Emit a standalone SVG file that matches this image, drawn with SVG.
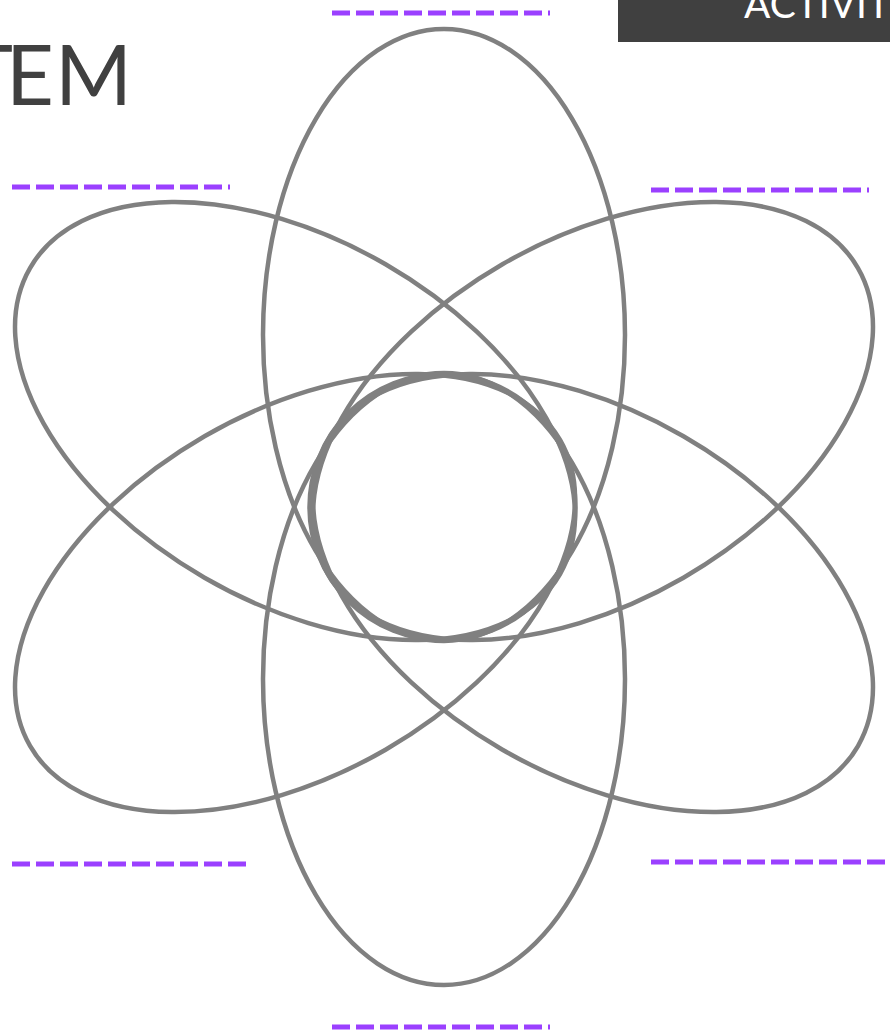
<svg xmlns="http://www.w3.org/2000/svg" width="890" height="1034" viewBox="0 0 890 1034">
<style>
.orb{fill:none;stroke:#808080;stroke-width:4.5}
.dash{fill:none;stroke:#9b40ff;stroke-width:5;stroke-dasharray:18 6}
.title{font-family:Lato,"Liberation Sans",sans-serif;font-weight:400;fill:#404040}
.hdr{font-family:Lato,"Liberation Sans",sans-serif;fill:#ffffff}
</style>
<rect width="890" height="1034" fill="#ffffff"/>
<g id="header">
<rect x="618" y="0" width="272" height="42" fill="#404040"/>
<text class="hdr" x="744" y="18" font-size="39">ACTIVIT</text>
</g>
<g id="title"><text class="title" x="-36 6 55" y="105" font-size="83">TEM</text></g>
<g id="petals">
<g id="petal-top"><ellipse class="orb" cx="444" cy="335" rx="181" ry="306"/></g>
<g id="petal-top-right"><ellipse class="orb" cx="592.96" cy="421" rx="181" ry="306" transform="rotate(60 592.96 421)"/></g>
<g id="petal-bottom-right"><ellipse class="orb" cx="592.96" cy="593" rx="181" ry="306" transform="rotate(120 592.96 593)"/></g>
<g id="petal-bottom"><ellipse class="orb" cx="444" cy="679" rx="181" ry="306"/></g>
<g id="petal-bottom-left"><ellipse class="orb" cx="295.04" cy="593" rx="181" ry="306" transform="rotate(240 295.04 593)"/></g>
<g id="petal-top-left"><ellipse class="orb" cx="295.04" cy="421" rx="181" ry="306" transform="rotate(300 295.04 421)"/></g>
<g id="center"><circle class="orb" cx="442.5" cy="507" r="133"/></g>
</g>
<g id="blanks">
<line class="dash" x1="332" y1="13" x2="550" y2="13"/>
<line class="dash" x1="12" y1="187" x2="230" y2="187"/>
<line class="dash" x1="651" y1="190" x2="869" y2="190"/>
<line class="dash" x1="12" y1="864" x2="246" y2="864"/>
<line class="dash" x1="651" y1="862" x2="890" y2="862"/>
<line class="dash" x1="332" y1="1027" x2="550" y2="1027"/>
</g>
</svg>
